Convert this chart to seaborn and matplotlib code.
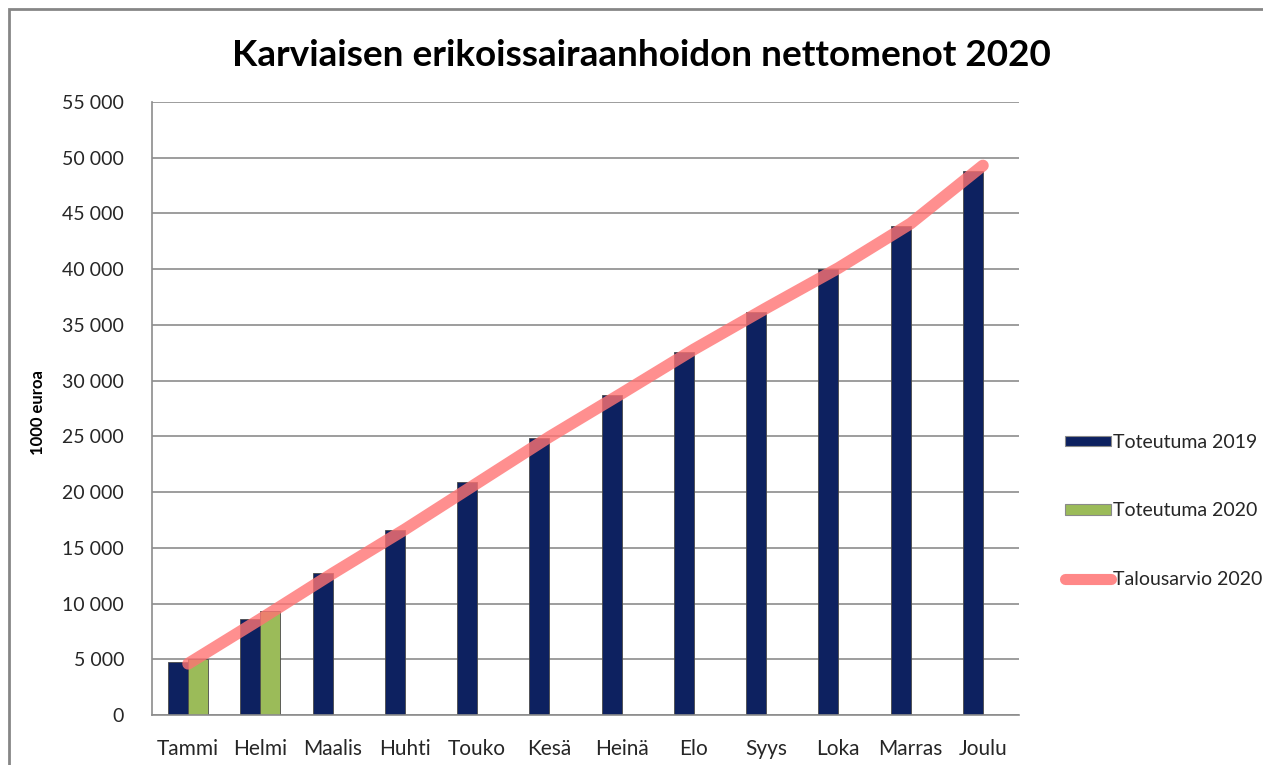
import matplotlib
matplotlib.use("Agg")
import matplotlib.pyplot as plt
import seaborn as sns
import pandas as pd
import numpy as np
from matplotlib.patches import Rectangle
from matplotlib.ticker import FuncFormatter, MultipleLocator
from matplotlib.lines import Line2D

months = ["Tammi", "Helmi", "Maalis", "Huhti", "Touko", "Kesä", "Heinä",
          "Elo", "Syys", "Loka", "Marras", "Joulu"]
toteutuma_2019 = [4750, 8600, 12700, 16600, 20900, 24850, 28700, 32600,
                  36200, 40000, 43850, 48800]
toteutuma_2020 = [5000, 9300, np.nan, np.nan, np.nan, np.nan, np.nan, np.nan,
                  np.nan, np.nan, np.nan, np.nan]
talousarvio_2020 = [4600, 8600, 12700, 16650, 20800, 24950, 28850, 32800,
                    36500, 40100, 44100, 49300]

title = "Karviaisen erikoissairaanhoidon nettomenot 2020"
ylabel = "1000 euroa"
series_names = ["Toteutuma 2019", "Toteutuma 2020", "Talousarvio 2020"]

sns.set_theme(style="white")
plt.rcParams["font.family"] = ["Lato", "DejaVu Sans"]

bars = pd.DataFrame({
    "kk": months * 2,
    "arvo": toteutuma_2019 + toteutuma_2020,
    "sarja": [series_names[0]] * 12 + [series_names[1]] * 12,
})
line_df = pd.DataFrame({"kk": months, "arvo": talousarvio_2020})

W, H = 1263, 765
fig = plt.figure(figsize=(W / 100, H / 100), dpi=100)
ax = fig.add_axes([152 / W, 1 - 715 / H, (1019 - 152) / W, (715 - 102) / H])

navy = "#0d2160"
green = "#9bbb59"
pink = "#ff7373"
sns.barplot(data=bars, x="kk", y="arvo", hue="sarja", order=months,
            hue_order=series_names[:2], palette=[navy, green], width=0.555,
            ax=ax, legend=False, saturation=1, edgecolor="#4a4a4a", linewidth=0.6)
sns.lineplot(data=line_df, x="kk", y="arvo", sort=False, ax=ax,
             color=pink, alpha=0.8, linewidth=8.5, solid_capstyle="round",
             legend=False)

ax.set_ylim(0, 55000)
ax.set_xlim(-0.5, 11.5)
ax.yaxis.set_major_locator(MultipleLocator(5000))
ax.yaxis.set_major_formatter(FuncFormatter(lambda v, p: f"{int(v):,}".replace(",", " ")))
ax.grid(axis="y", color="#8c8c8c", linewidth=1.2)
ax.set_axisbelow(True)
for s in ["top", "right"]:
    ax.spines[s].set_visible(False)
for s in ["left", "bottom"]:
    ax.spines[s].set_color("#8c8c8c")
    ax.spines[s].set_linewidth(1.2)
ax.tick_params(axis="both", length=0, colors="#262626")
ax.tick_params(axis="y", pad=20, labelsize=14)
ax.tick_params(axis="x", pad=17, labelsize=15)
ax.set_xlabel("")
ax.set_ylabel(ylabel, fontsize=12, fontweight="bold", color="#000000")
ax.yaxis.set_label_coords((46 - 152) / 867, 0.494)

fig.text(0.5075, 1 - 55 / H, title, ha="center", va="center",
         fontsize=26.6, fontweight="bold", color="#000000")

handles = [
    Rectangle((0, 0), 1, 1, facecolor=navy, edgecolor="#8a8a8a", linewidth=0.8),
    Rectangle((0, 0), 1, 1, facecolor=green, edgecolor="#8a8a8a", linewidth=0.8),
    Line2D([0], [0], color=pink, alpha=0.85, linewidth=8, solid_capstyle="round"),
]
fig.legend(handles, series_names, loc="upper left",
           bbox_to_anchor=(1057 / W, 1 - 426 / H), frameon=False,
           fontsize=14, handlelength=2.4, handleheight=0.45, handletextpad=0.1,
           labelspacing=2.65, borderaxespad=0, labelcolor="#262626")

border = Rectangle((9 / W, -0.1), 1.2, 1.1 - 9 / H, transform=fig.transFigure,
                   fill=False, edgecolor="#868686", linewidth=2, clip_on=False)
fig.patches.append(border)

fig.savefig("out.png", dpi=100)
